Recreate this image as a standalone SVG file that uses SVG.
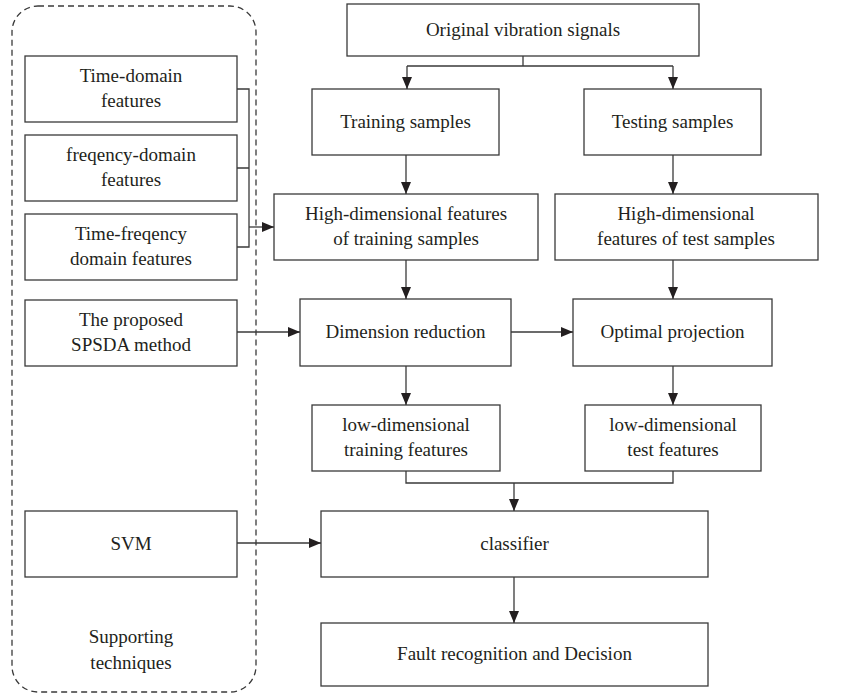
<svg xmlns="http://www.w3.org/2000/svg" width="849" height="695" viewBox="0 0 849 695">
<defs>
<marker id="arr" markerUnits="userSpaceOnUse" markerWidth="12" markerHeight="10" refX="12" refY="5" orient="auto">
<path d="M0,0 L12,5 L0,10 z" fill="#231f20"/>
</marker>
<style>
.box{fill:#fff;stroke:#3a3a3a;stroke-width:1.3}
.ln{fill:none;stroke:#3a3a3a;stroke-width:1.3}
.arw{fill:none;stroke:#3a3a3a;stroke-width:1.3;marker-end:url(#arr)}
.t{font-family:'Liberation Serif','Times New Roman',serif;font-size:19px;fill:#231f20;text-anchor:middle}
</style>
</defs>
<rect x="12" y="6" width="244" height="686" rx="26" ry="26" fill="none" stroke="#3a3a3a" stroke-width="1.3" stroke-dasharray="6,4"/>
<g class="t">
<g id="time-domain"><rect class="box" x="25" y="56" width="212" height="66"/><text x="131" y="82">Time-domain</text><text x="131" y="107">features</text></g>
<g id="freq-domain"><rect class="box" x="25" y="135" width="212" height="66"/><text x="131" y="161">freqency-domain</text><text x="131" y="186">features</text></g>
<g id="time-freq"><rect class="box" x="25" y="214" width="212" height="66"/><text x="131" y="240">Time-freqency</text><text x="131" y="265">domain features</text></g>
<g id="spsda"><rect class="box" x="25" y="300" width="212" height="66"/><text x="131" y="326">The proposed</text><text x="131" y="351">SPSDA method</text></g>
<g id="svm"><rect class="box" x="25" y="511" width="212" height="66"/><text x="131" y="550">SVM</text></g>
<g id="supporting"><text x="131" y="643">Supporting</text><text x="131" y="669">techniques</text></g>
<g id="original"><rect class="box" x="347" y="4" width="352" height="52"/><text x="523" y="36">Original vibration signals</text></g>
<g id="training"><rect class="box" x="312" y="89" width="187" height="66"/><text x="405.5" y="128">Training samples</text></g>
<g id="testing"><rect class="box" x="584" y="89" width="177" height="66"/><text x="672.5" y="128">Testing samples</text></g>
<g id="hd-train"><rect class="box" x="274" y="194" width="264" height="66"/><text x="406" y="220">High-dimensional features</text><text x="406" y="245">of training samples</text></g>
<g id="hd-test"><rect class="box" x="555" y="194" width="263" height="66"/><text x="686" y="220">High-dimensional</text><text x="686" y="245">features of test samples</text></g>
<g id="dim-red"><rect class="box" x="300" y="299" width="211" height="67"/><text x="405.5" y="338">Dimension reduction</text></g>
<g id="opt-proj"><rect class="box" x="573" y="299" width="199" height="67"/><text x="672.5" y="338">Optimal projection</text></g>
<g id="ld-train"><rect class="box" x="312" y="405" width="188" height="66"/><text x="406" y="431">low-dimensional</text><text x="406" y="456">training features</text></g>
<g id="ld-test"><rect class="box" x="585" y="405" width="176" height="66"/><text x="673" y="431">low-dimensional</text><text x="673" y="456">test features</text></g>
<g id="classifier"><rect class="box" x="321" y="511" width="387" height="66"/><text x="514.5" y="550">classifier</text></g>
<g id="fault"><rect class="box" x="321" y="623" width="387" height="63"/><text x="514.5" y="660">Fault recognition and Decision</text></g>
</g>
<g id="connectors">
<path class="ln" d="M523,56 V66 M407,66 H673"/>
<path class="arw" d="M407,66 V89"/>
<path class="arw" d="M673,66 V89"/>
<path class="arw" d="M406,155 V194"/>
<path class="arw" d="M673,155 V194"/>
<path class="arw" d="M406,260 V299"/>
<path class="arw" d="M673,260 V299"/>
<path class="arw" d="M511,332 H573"/>
<path class="arw" d="M237,332 H300"/>
<path class="arw" d="M406,366 V405"/>
<path class="arw" d="M673,366 V405"/>
<path class="ln" d="M406,471 V483 H673 V471"/>
<path class="arw" d="M514,483 V511"/>
<path class="arw" d="M237,543 H321"/>
<path class="arw" d="M514,577 V623"/>
<path class="ln" d="M237,89 H249 V247 H237 M237,168 H249"/>
<path class="arw" d="M249,227 H274"/>
</g>
</svg>
